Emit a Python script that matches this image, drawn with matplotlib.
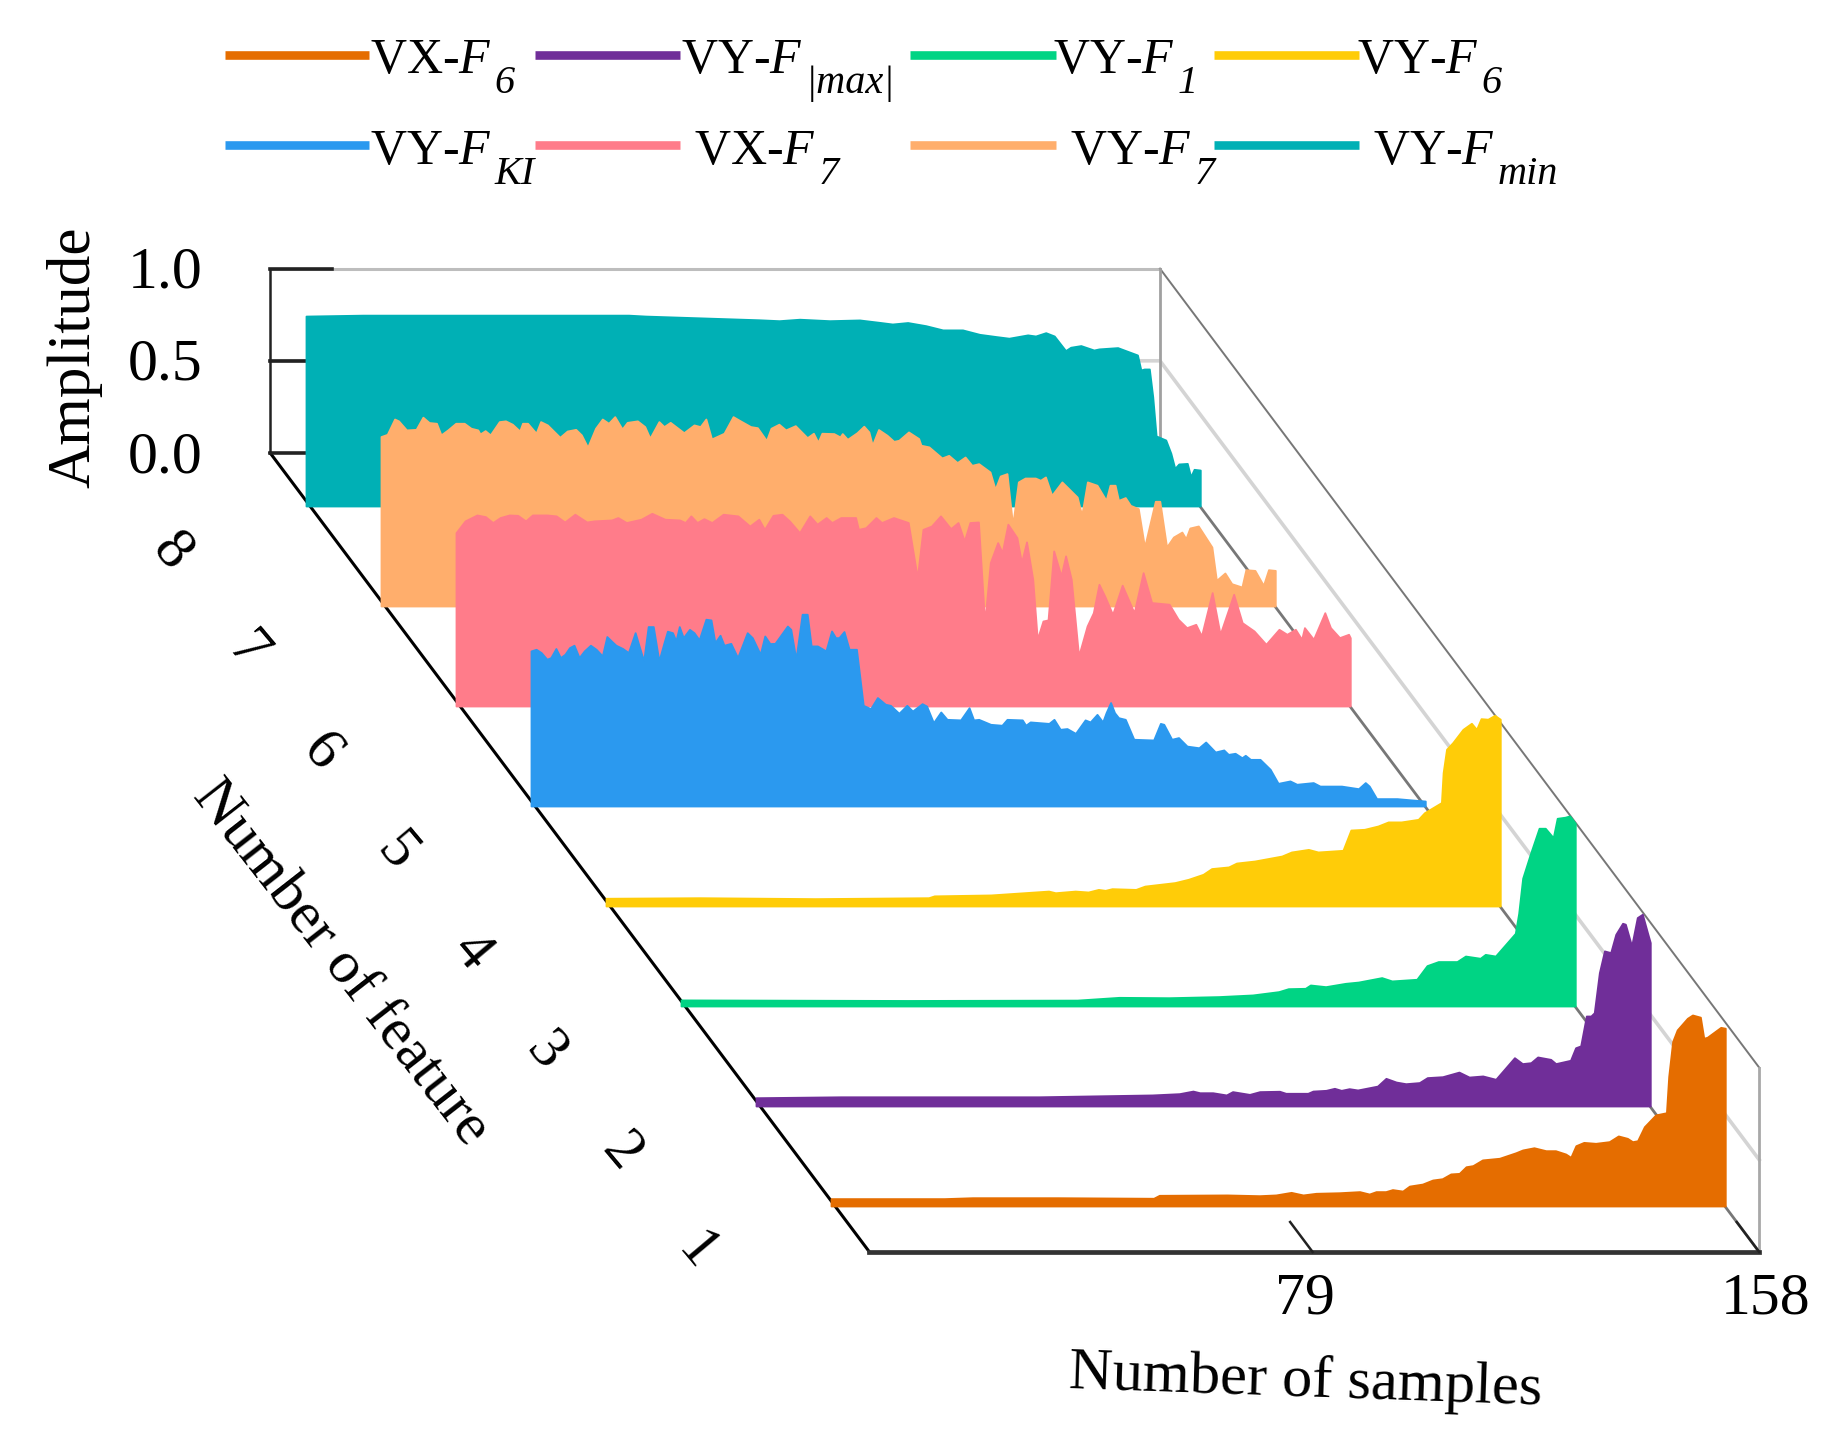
import matplotlib
matplotlib.use("Agg")
import matplotlib.pyplot as plt
from matplotlib.transforms import Affine2D

plt.rcParams['font.family'] = ['Liberation Serif', 'DejaVu Serif']
plt.rcParams['mathtext.fontset'] = 'custom'
plt.rcParams['mathtext.rm'] = 'Liberation Serif'
plt.rcParams['mathtext.it'] = 'Liberation Serif:italic'
plt.rcParams['mathtext.bf'] = 'Liberation Serif:bold'

# ---- data: (sample index, amplitude) knots ----
s1_x = [0,20,25,40,57,58,70,75.7,78.6,81.3,83.4,85.7,89.8,93.4,95.1,96.3,98,99.2,101,102.2,104.5,106.3,108,109.5,111,112.2,113.4,115.1,118.1,121,122.2,124.2,126.3,128,129.8,130.7,131.6,133,135.1,137.5,139.1,140.7,141.6,142.5,143.7,145.7,147.6,148,148.7,149.5,151.3,152.2,153.6,154.2,154.8,157.2,158]
s1_y = [.04,.04,.045,.045,.042,.058,.06,.056,.06,.074,.06,.069,.072,.078,.065,.078,.078,.089,.081,.108,.119,.141,.148,.174,.177,.213,.219,.25,.259,.289,.304,.316,.3,.3,.282,.264,.327,.345,.34,.349,.38,.367,.349,.354,.43,.494,.506,.702,.892,.955,1.018,1.036,1.024,.91,.915,.969,.964]

s2_x = [0,15,30,50,60,70,74.8,77.2,78.4,80.7,83.1,84.2,87.2,89,92.5,93.6,97.5,98.4,100.7,102.2,103.4,104.8,106.3,109.8,111.3,113.1,114.8,117.2,118.6,121.3,124.2,126,128.4,130.7,134,135.4,136.9,138.1,140.4,141.3,143.9,144.8,145.7,146.7,147.5,148.1,149,149.9,151,151.9,153.1,153.6,154.7,155.7,156.6,157.5,158]
s2_y = [.045,.05,.05,.05,.055,.06,.067,.081,.072,.072,.06,.078,.063,.078,.08,.069,.069,.081,.085,.096,.085,.094,.087,.108,.15,.13,.121,.127,.154,.159,.184,.157,.163,.145,.262,.23,.235,.266,.253,.23,.248,.316,.326,.488,.488,.506,.723,.841,.832,.931,.991,.986,.868,1.022,1.04,.94,.886]

s3_x = [0,40,70,77.4,86.2,95,101,105.6,107.3,110.3,111.2,113.9,117.4,119.7,123.8,125.6,130,131.8,133.8,137.1,138.6,141.2,142.1,143.9,147.4,148,148.7,150.1,151.6,152.7,154.1,154.8,156.2,157,158]
s3_y = [.033,.03,.032,.047,.045,.051,.06,.078,.094,.096,.114,.105,.123,.13,.154,.136,.145,.219,.241,.241,.271,.259,.28,.271,.394,.503,.693,.828,.964,.964,.913,1.018,1.024,1.031,.991]

s4_x = [0,16.6,37,57,58,68,78.2,79.4,82.9,85.2,87,88.2,89.4,93.6,95.2,100.5,102.9,105.5,107,110,111.4,114.6,119.4,121.1,124.1,125.8,130.2,131.6,134,136.4,138.2,140.5,143.5,144.6,147.6,147.9,148.5,149.6,151.4,152.9,153.8,154.6,155.8,157,158]
s4_y = [.042,.045,.04,.045,.055,.06,.081,.072,.081,.076,.09,.085,.094,.09,.108,.127,.145,.172,.203,.212,.233,.244,.271,.293,.307,.293,.302,.412,.416,.434,.456,.456,.47,.506,.561,.723,.85,.886,.958,.991,.958,1.016,1.013,1.034,1.013]

s5_x = [0,.9,1.8,2.8,3.5,4.4,5.2,6,6.8,7.6,8.5,9.4,10.5,11.5,12.6,13.4,14.2,15,16.2,17.2,18.4,19.1,19.9,20.7,21.6,22.6,23.5,24.1,25,25.6,26.2,26.9,28,28.8,29.7,30.9,31.8,32.5,33.4,34.1,35.3,36.5,38.2,39.1,40.5,41.3,42.2,43.1,45.3,45.9,46.8,47.9,48.8,49.5,50.6,52.1,53.1,53.8,54.4,55.3,56.2,57.5,58.7,60,61.2,62.6,63.5,65,66.4,67.4,69.1,69.9,71.1,72.4,73.5,75.9,77.4,78.2,79.1,81.2,83.2,84.1,86.8,87.4,88.2,91.5,92.4,93.5,94.7,96.2,97.9,98.8,100,101,101.6,102.4,103.1,103.8,105,106.5,110,111.2,111.8,113.2,114.4,115.9,118,119.2,120.9,122.4,123.2,124.4,125.6,126.2,127.1,128.8,130.6,132,134.1,135.3,138.2,139.4,143.2,146.2,147.4,148.1,149.4,153,155.6,158]
s5_y = [.841,.85,.832,.796,.805,.854,.805,.823,.859,.872,.805,.841,.872,.85,.814,.919,.895,.872,.854,.832,.94,.868,.787,.973,.973,.787,.886,.948,.94,.895,.973,.913,.958,.94,.901,1.013,1.009,.886,.926,.872,.882,.805,.94,.913,.823,.922,.881,.882,.976,.958,.796,1.04,1.04,.868,.868,.841,.949,.913,.913,.946,.85,.85,.546,.528,.588,.552,.546,.503,.546,.515,.555,.542,.452,.51,.47,.467,.533,.467,.47,.443,.438,.47,.467,.438,.456,.448,.47,.416,.42,.394,.467,.456,.497,.456,.506,.561,.506,.479,.47,.362,.358,.448,.443,.362,.371,.325,.316,.347,.293,.304,.28,.286,.262,.275,.253,.253,.199,.123,.136,.118,.127,.108,.108,.094,.127,.108,.04,.04,.033,.027]

s6_x = [0,1.6,3.7,5.2,6.5,7.8,9.4,10.9,12.3,13.5,16.1,17.7,19.2,21,23.1,24.4,27.5,28.6,30.1,32.7,34.6,36.9,39.5,40.5,41.5,42.6,43.8,45.2,47.2,49.8,51.9,53.5,54.5,56,57.6,58.9,60.7,62.5,63.8,65.4,66.4,68,70.6,71.1,72.4,74.2,75.2,77.3,79.9,81.5,82.5,84,85.6,87.4,88.7,89.8,90.8,92.3,93.4,94.4,95.7,96.5,97.5,99.1,99.9,100.8,101.9,102.7,103.7,104.6,105.6,106.9,107.7,108.7,110,111.5,112.6,113.6,114.6,116,117.7,119.8,121.4,122.9,126,127.6,129.1,130.7,131.7,133.6,135,137.4,138.9,141,143.1,145.4,146.8,148.3,149.4,149.9,151.5,153.5,154.5,156.1,157.7,158]
s6_y = [.94,1.004,1.036,1.027,.995,1.022,1.036,1.034,1.004,1.036,1.036,1.031,.998,1.04,.998,1.004,1.009,1.022,.995,1.013,1.045,1.013,1.009,.995,1.031,.995,1.016,.995,1.04,1.031,.976,1.013,.958,1.034,1.04,1.004,.94,1.031,.986,1.022,.995,1.022,1.022,.958,.967,1.022,.995,1.022,.995,.696,.958,.976,1.031,.962,.995,.895,.995,.998,.452,.778,.886,.832,.986,.913,.778,.89,.687,.362,.461,.467,.841,.705,.814,.687,.271,.434,.506,.66,.597,.497,.655,.506,.723,.561,.552,.47,.425,.443,.38,.615,.389,.606,.452,.407,.335,.416,.389,.416,.362,.425,.362,.506,.425,.371,.389,.37]

s7_x = [0,1.1,2.4,3.1,4.5,6.2,7.4,8.5,9.8,10.6,11.8,13.2,14.7,15.9,17.1,17.5,18.4,19.3,20.9,22,23.2,24.5,25,25.9,27.4,28.2,29.4,31.6,32.9,34.4,35.4,36.5,37.9,39.1,40.2,41.3,42.6,43.5,45.3,46.6,47.5,49.1,50,51.1,53.5,55.3,56.4,57.4,58.4,60.6,62.2,63.5,65.3,66.5,68.1,68.9,70.3,71.5,73.2,75.3,76.4,77.2,77.9,80,81.1,81.5,82.4,84.1,85.3,86.2,86.8,87.9,89.4,90.6,91.5,93.2,95,95.4,96.8,99.1,100.3,101.8,103.2,104.4,105.6,107.6,108.5,109.4,110.6,111.6,112.6,113.8,115.6,116.5,117.4,118.5,120.3,123,123.8,124.8,126.5,128.1,128.8,129.7,130.3,131.5,132.4,133.8,134.9,136.8,137.6,138.8,140,141.5,142.2,142.9,144.4,146.8,147.6,149.1,150.3,152.1,152.8,154.4,155.9,156.8,158]
s7_y = [.919,.931,1.014,1.004,.955,.958,1.024,.995,.991,.928,.955,.991,.991,.964,.955,.933,.951,.928,1.0,1.004,.986,.949,.991,.991,.937,1.0,.982,.915,.949,.958,.928,.861,.964,1.014,.991,1.027,.96,.996,1.004,.973,.91,1.0,.973,.996,.94,.982,.973,1.014,.906,.937,1.027,1.004,.973,.967,.897,.964,.986,.955,.978,.913,.937,.888,.937,.935,.917,.935,.904,.94,.975,.944,.872,.957,.926,.893,.899,.944,.908,.872,.863,.803,.817,.778,.808,.763,.772,.727,.633,.705,.718,.438,.673,.694,.694,.682,.7,.6,.673,.591,.492,.673,.655,.573,.655,.655,.573,.588,.546,.528,.32,.568,.568,.32,.374,.401,.365,.423,.434,.32,.139,.179,.121,.103,.197,.193,.112,.197,.193]

s8_x = [0,10,30,57,60,70,80,83.6,87.2,92.5,97.8,101.3,103.6,106.3,109.5,112.5,116,119,121.9,124.2,127.5,128.9,130.7,132.2,134.2,135.1,136.9,139.2,140.1,143.4,146.9,147.5,148.1,149,149.6,150.2,151.9,152.8,153.5,154.2,155.7,156.3,156.9,158]
s8_y = [1.03,1.035,1.035,1.035,1.03,1.02,1.01,1.005,1.013,1.005,1.009,.996,.987,.995,.978,.955,.955,.931,.919,.91,.928,.922,.94,.922,.843,.861,.87,.846,.852,.859,.819,.738,.743,.743,.593,.38,.358,.286,.204,.228,.231,.159,.199,.195]

features = [1, 2, 3, 4, 5, 6, 7, 8]
series_x = [s1_x, s2_x, s3_x, s4_x, s5_x, s6_x, s7_x, s8_x]
series_y = [s1_y, s2_y, s3_y, s4_y, s5_y, s6_y, s7_y, s8_y]
colors = ['#E56D00', '#702E99', '#00D484', '#FFCC08', '#2B99EF', '#FF7C8A', '#FFAE6C', '#00B0B5']
legend_main = ['VX-$F$', 'VY-$F$', 'VY-$F$', 'VY-$F$', 'VY-$F$', 'VX-$F$', 'VY-$F$', 'VY-$F$']
legend_sub = ['6', '|max|', '1', '6', 'KI', '7', '7', 'min']
amp_ticks = [0.0, 0.5, 1.0]
sample_ticks = [79, 158]
S_MIN, S_MAX = 0.7, 157.9
F_MIN, F_MAX = 0.54, 8.53

# ---- oblique projection: (sample, amplitude) on feature plane f -> page ----
PX_S, PX_A, PX_F_X, PX_F_Y = 5.66, 184.4, 75.0, 100.0
X1, Y1 = 831.0, 1206.0

fig = plt.figure(figsize=(18.30, 14.33), dpi=100)
ax = fig.add_axes([0, 0, 1, 1])
ax.set_xlim(0, 1830)
ax.set_ylim(1433, 0)
ax.axis('off')


def plane(f):
    return Affine2D.from_values(PX_S, 0, 0, -PX_A,
                                X1 - PX_F_X * (f - 1), Y1 - PX_F_Y * (f - 1)) + ax.transData


def line3d(s, f, a, **kw):
    """Polyline through (sample, feature, amplitude) points."""
    dx = [si - (fi - 1) * PX_F_X / PX_S for si, fi in zip(s, f)]
    dy = [ai + (fi - 1) * PX_F_Y / PX_A for ai, fi in zip(a, f)]
    ax.plot(dx, dy, transform=plane(1), solid_capstyle='projecting', **kw)


# walls and floor
GRID = '#D4D4D4'
line3d([S_MIN, S_MAX, S_MAX], [F_MAX, F_MAX, F_MIN], [.5, .5, .5], color=GRID, lw=2.6, zorder=1)
line3d([S_MIN, S_MAX], [F_MAX, F_MAX], [1, 1], color='#BDBDBD', lw=2.2, zorder=1)
line3d([S_MAX, S_MAX], [F_MAX, F_MIN], [1, 1], color='#777777', lw=1.4, zorder=1)
line3d([S_MAX, S_MAX], [F_MAX, F_MAX], [0, 1], color='#A0A0A0', lw=2.0, zorder=1)
line3d([S_MAX, S_MAX], [F_MIN, F_MIN], [0, 1], color='#A8A8A8', lw=2.0, zorder=1)
line3d([S_MAX, S_MAX], [F_MAX, F_MIN], [0, 0], color='#777777', lw=2.0, zorder=1)
line3d([S_MIN, S_MIN], [F_MAX, F_MAX], [0, 1], color='#222222', lw=1.8, zorder=1)
line3d([S_MIN, S_MIN], [F_MAX, F_MIN], [0, 0], color='black', lw=2.2, zorder=1)
line3d([S_MIN, S_MAX], [F_MIN, F_MIN], [0, 0], color='#333333', lw=3.4, zorder=1)

# ticks
for a in amp_ticks:
    line3d([S_MIN, S_MIN + 11], [F_MAX, F_MAX], [a, a], color='#222222', lw=2.6, zorder=1.5)
    ax.annotate(f'{a:.1f}', (S_MIN, a), xycoords=plane(F_MAX), xytext=(-68, -5),
                textcoords='offset pixels', fontsize=43, ha='right', va='center')
for s in sample_ticks:
    line3d([min(s, S_MAX)] * 2, [F_MIN, F_MIN + 0.3], [0, 0], color='#222222', lw=1.8, zorder=1.5)
    ax.annotate(str(s), (min(s, S_MAX), 0), xycoords=plane(F_MIN), xytext=(-8 if s == 79 else 6, -48),
                textcoords='offset pixels', fontsize=43, ha='center', va='center')

# series, back to front
for f, xs, ys, c in reversed(list(zip(features, series_x, series_y, colors))):
    ax.fill_between(xs, 0, ys, transform=plane(f), facecolor=c, edgecolor=c, lw=1.3,
                    joinstyle='round', zorder=2 + (8 - f) * 0.1)
    ax.annotate(str(f), (0, 0), xycoords=plane(f), xytext=(-135, -46),
                textcoords='offset pixels', fontsize=43, rotation=-50,
                ha='center', va='center', rotation_mode='anchor')

# axis titles
ax.text(1306, 1382, 'Number of samples', fontsize=43.5, rotation=-2, ha='center', va='center')
ax.text(341, 963, 'Number of feature', fontsize=43.5, rotation=-52, ha='center', va='center', rotation_mode='anchor')
ax.text(74, 357, 'Amplitude', fontsize=44, rotation=90, ha='center', va='center')

# legend
leg_x0 = [225, 535, 910, 1214, 225, 535, 910, 1214]
leg_x1 = [369, 680, 1056, 1359, 369, 680, 1056, 1359]
leg_tx = [370, 681, 1053, 1357, 370, 694, 1070, 1373]
leg_ly = [55, 55, 55, 55, 145, 145, 145, 145]
leg_ty = [73, 73, 73, 73, 164, 164, 164, 164]
for i in range(8):
    ax.plot([leg_x0[i], leg_x1[i]], [leg_ly[i]] * 2, color=colors[i], lw=6.2, solid_capstyle='butt')
    main = ax.text(leg_tx[i], leg_ty[i], legend_main[i], fontsize=36, ha='left', va='baseline')
    ax.annotate(legend_sub[i], xy=(1, 0), xycoords=main, xytext=(3, -9), textcoords='offset pixels',
                fontsize=29, style='italic', ha='left', va='baseline')

fig.savefig('out.png', dpi=100)
